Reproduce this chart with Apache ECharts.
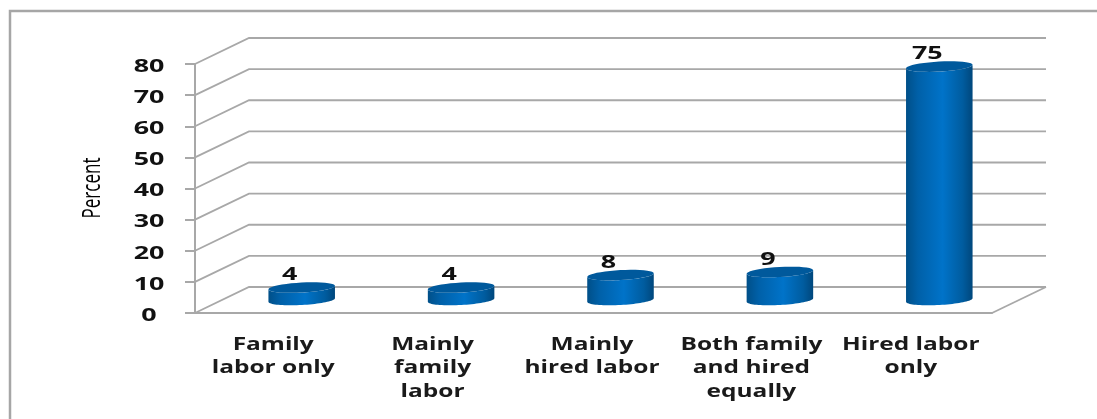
<!DOCTYPE html>
<html>
<head>
<meta charset="utf-8">
<style>
html, body { margin: 0; padding: 0; background: #fff; }
#main { width: 1097px; height: 419px; }
</style>
<script src="https://cdn.jsdelivr.net/npm/echarts@6/dist/echarts.min.js"></script>
</head>
<body>
<div id="main"></div>
<script>
var categories = ['Family\nlabor only', 'Mainly\nfamily\nlabor', 'Mainly\nhired labor', 'Both family\nand hired\nequally', 'Hired labor\nonly'];
var percent = [4, 4, 8, 9, 75];
var yTicks = [0, 10, 20, 30, 40, 50, 60, 70, 80];

var depthX = 54, depthY = -26;   // shift of the back wall against the front plane
var lineColor = '#a8a8a8';
// the picture is stretched sideways, so the text is too
var digitFont = 'bold 17px "Open Sans"', digitScale = 1.58;
var catFont = 'bold 17px "Open Sans"', catScale = 1.44;

var myChart = echarts.init(document.getElementById('main'));

/*back wall and side wall lines, with the value labels*/
function renderWall(params, api) {
    var v = api.value(0);
    var p = api.coord([0, v]);
    var left = params.coordSys.x;
    var right = left + params.coordSys.width;
    var children = [{
        type: 'polyline',
        shape: { points: [[left, p[1]], [left + depthX, p[1] + depthY], [right + depthX, p[1] + depthY]] },
        style: { fill: null, stroke: lineColor, lineWidth: 1.8 }
    }, {
        type: 'text',
        x: left - 46,
        y: p[1] + 3,
        scaleX: digitScale,
        style: { text: String(v), align: 'center', verticalAlign: 'middle', fill: '#111', font: digitFont }
    }];
    if (v === 0) {
        children.push({
            type: 'line',
            shape: { x1: right, y1: p[1], x2: right + depthX, y2: p[1] + depthY },
            style: { stroke: lineColor, lineWidth: 1.8 }
        });
    }
    return { type: 'group', children: children };
}

function ellipsePoints(cx, cy, rx, ry, tilt, from, to) {
    var pts = [];
    for (var i = 0; i <= 40; i++) {
        var t = from + (to - from) * i / 40;
        var x = rx * Math.cos(t), y = ry * Math.sin(t);
        pts.push([cx + x * Math.cos(tilt) - y * Math.sin(tilt), cy + x * Math.sin(tilt) + y * Math.cos(tilt)]);
    }
    return pts;
}

/*cylinders*/
function renderCylinder(params, api) {
    var base = api.coord([api.value(0), 0]);
    var top = api.coord([api.value(0), api.value(1)]);
    var cx = base[0] + depthX / 2;
    var by = base[1] + depthY / 2;
    var ty = top[1] + depthY / 2;
    var rx = api.size([1, 0])[0] * 0.209;
    var ry = 5, tilt = -0.055;
    // front half of the bottom rim, then back over the top rim
    var body = ellipsePoints(cx, by, rx, ry, tilt, 0, Math.PI)
        .concat(ellipsePoints(cx, ty, rx, ry, tilt, Math.PI, 0));
    return {
        type: 'group',
        children: [{
            type: 'polygon',
            shape: { points: body },
            style: {
                fill: new echarts.graphic.LinearGradient(0, 0, 1, 0, [
                    { offset: 0, color: '#004f88' },
                    { offset: 0.18, color: '#0060a8' },
                    { offset: 0.55, color: '#0073c9' },
                    { offset: 0.85, color: '#005c9f' },
                    { offset: 1, color: '#00477c' }
                ])
            }
        }, {
            type: 'polygon',
            shape: { points: ellipsePoints(cx, ty, rx, ry, tilt, 0, Math.PI * 2) },
            style: { fill: '#00599c' }
        }, {
            type: 'text',
            x: cx - 12,
            y: ty - 12,
            scaleX: digitScale,
            style: { text: String(api.value(1)), align: 'center', verticalAlign: 'middle', fill: '#111', font: digitFont }
        }]
    };
}

/*category labels under the floor*/
function renderCategory(params, api) {
    var p = api.coord([api.value(0), 0]);
    return {
        type: 'text',
        x: p[0] - 1.5,
        y: p[1] + 20,
        scaleX: catScale,
        style: {
            text: categories[params.dataIndex],
            align: 'center',
            verticalAlign: 'top',
            lineHeight: 23.5,
            fill: '#1a1a1a',
            font: catFont
        }
    };
}

var option = {
    animation: false,
    backgroundColor: '#fff',
    graphic: [{
        type: 'polyline',
        silent: true,
        z: -10,
        shape: { points: [[10, 419], [10, 11], [1097, 11]] },
        style: { fill: null, stroke: '#a6a6a6', lineWidth: 2.5 }
    }, {
        type: 'text',
        silent: true,
        x: 93,
        y: 188,
        rotation: Math.PI / 2,
        scaleX: 0.68,
        style: { text: 'Percent', align: 'center', verticalAlign: 'middle', fill: '#000', font: '500 25px "Open Sans"' }
    }],
    grid: { left: 195, right: 105, top: 64, bottom: 106 },
    xAxis: {
        type: 'category',
        data: categories,
        axisLine: { lineStyle: { color: lineColor, width: 2 } },
        axisTick: { show: false },
        axisLabel: { show: false }
    },
    yAxis: {
        type: 'value',
        min: 0,
        max: 80,
        interval: 10,
        axisLine: { show: true, onZero: false, lineStyle: { color: lineColor, width: 2 } },
        axisTick: { show: true, length: 10, lineStyle: { color: lineColor, width: 2 } },
        splitLine: { show: false },
        axisLabel: { show: false }
    },
    series: [{
        type: 'custom',
        name: 'wall',
        silent: true,
        z: 1,
        clip: false,
        renderItem: renderWall,
        encode: { y: 0 },
        data: yTicks.map(function (v) { return [v]; })
    }, {
        type: 'custom',
        name: 'categories',
        silent: true,
        z: 1,
        clip: false,
        renderItem: renderCategory,
        encode: { x: 0 },
        data: categories.map(function (c, i) { return [i]; })
    }, {
        type: 'custom',
        name: 'Percent',
        z: 2,
        clip: false,
        renderItem: renderCylinder,
        encode: { x: 0, y: 1 },
        data: percent.map(function (v, i) { return [i, v]; })
    }]
};
myChart.setOption(option);
</script>
</body>
</html>
